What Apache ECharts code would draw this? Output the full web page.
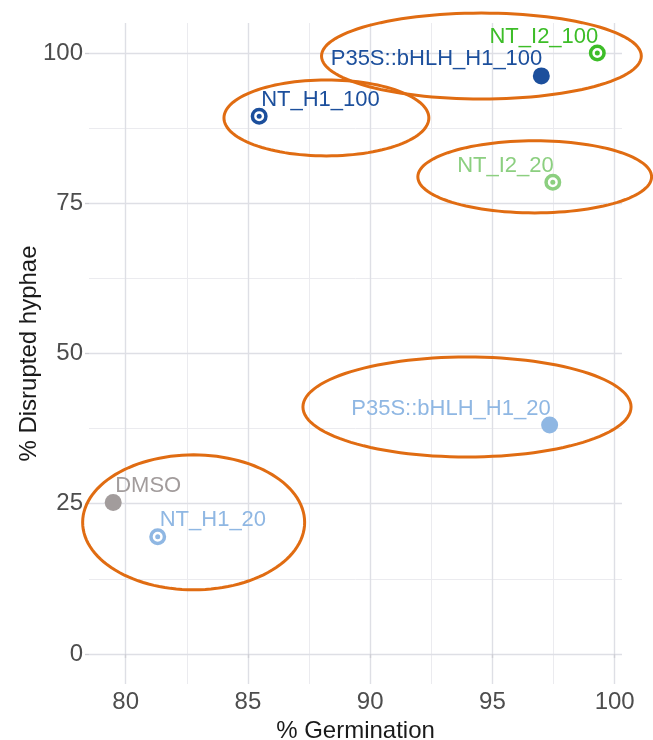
<!DOCTYPE html>
<html>
<head>
<meta charset="utf-8">
<script src="https://cdn.jsdelivr.net/npm/echarts@6/dist/echarts.min.js"></script>
<style>
html,body{margin:0;padding:0;background:#fff;}
#chart{width:653px;height:740px;}
</style>
</head>
<body>
<div id="chart"></div>
<script>
// ---- data ----
const categories = ['DMSO', 'NT_H1_20', 'NT_H1_100', 'P35S::bHLH_H1_100', 'NT_I2_100', 'NT_I2_20', 'P35S::bHLH_H1_20'];
const germination = [79.49, 81.31, 85.46, 97.0, 99.29, 97.47, 97.34];
const disrupted = [25.2, 19.5, 89.5, 96.2, 100, 78.5, 38.1];
const markerType = ['filled', 'ring', 'ring', 'filled', 'ring', 'ring', 'filled'];
const pointColors = ['#a29c9c', '#8fb7e3', '#1c4f9c', '#1c4f9c', '#3dbd28', '#8ccf80', '#8fb7e3'];
const labelSide = ['left', 'left', 'left', 'right', 'right', 'right', 'right'];

// annotation ellipses (data units)
const ellipseCx = [94.55, 88.21, 96.73, 93.96, 82.78];
const ellipseCy = [99.5, 89.2, 79.4, 41.1, 21.9];
const ellipseRx = [6.54, 4.19, 4.78, 6.71, 4.54];
const ellipseRy = [7.15, 6.32, 6.0, 8.32, 11.23];

const xTicks = [80, 85, 90, 95, 100];
const xMinor = [82.5, 87.5, 92.5, 97.5];
const yTicks = [0, 25, 50, 75, 100];
const yMinor = [12.5, 37.5, 62.5, 87.5];

const xRange = [78.5, 100.3];
const yRange = [-5, 105];

// ---- build ----
const FONT = 'Liberation Sans, Arial, sans-serif';

function pointItem(i) {
  return {
    name: categories[i],
    value: [germination[i], disrupted[i]],
    itemStyle: markerType[i] === 'ring'
      ? { color: '#fff', borderColor: pointColors[i], borderWidth: 3.5, opacity: 1 }
      : { color: pointColors[i], opacity: 1 },
    label: {
      show: true,
      formatter: categories[i],
      position: 'top',
      distance: 4,
      align: labelSide[i],
      offset: labelSide[i] === 'left' ? [2, 7] : [1, 7],
      color: pointColors[i],
      fontSize: 22,
      fontFamily: FONT
    }
  };
}

const filledData = [], ringData = [], dotData = [];
categories.forEach((c, i) => {
  if (markerType[i] === 'ring') {
    ringData.push(pointItem(i));
    dotData.push({ value: [germination[i], disrupted[i]], itemStyle: { color: pointColors[i], opacity: 1 } });
  } else {
    filledData.push(pointItem(i));
  }
});

const ellipseData = ellipseCx.map((cx, i) => [cx, ellipseCy[i], ellipseRx[i], ellipseRy[i]]);

const minorStyle = { color: '#ebebef', width: 1, type: 'solid' };
const majorStyle = { color: '#dedfe5', width: 1.4, type: 'solid' };
const gridLines = [];
xMinor.forEach(v => gridLines.push({ xAxis: v, lineStyle: minorStyle }));
yMinor.forEach(v => gridLines.push({ yAxis: v, lineStyle: minorStyle }));
xTicks.forEach(v => gridLines.push({ xAxis: v, lineStyle: majorStyle }));
yTicks.forEach(v => gridLines.push({ yAxis: v, lineStyle: majorStyle }));

const chart = echarts.init(document.getElementById('chart'), null, { renderer: 'canvas' });
chart.setOption({
  animation: false,
  backgroundColor: '#fff',
  grid: { left: 89, right: 31, top: 23, bottom: 56, containLabel: false, outerBoundsMode: 'none' },
  xAxis: {
    type: 'value',
    min: xRange[0], max: xRange[1],
    name: '% Germination',
    nameLocation: 'middle',
    nameGap: 35,
    nameMoveOverlap: false,
    nameTextStyle: { fontSize: 24, color: '#1a1a1a', fontFamily: FONT },
    axisLine: { show: false },
    axisTick: { show: true, customValues: xTicks, length: 4, lineStyle: { color: '#cfcfd5', width: 1.4 } },
    axisLabel: { customValues: xTicks, fontSize: 24, color: '#4d4d4d', margin: 6, fontFamily: FONT },
    splitLine: { show: false }
  },
  yAxis: {
    type: 'value',
    min: yRange[0], max: yRange[1],
    name: '% Disrupted hyphae',
    nameLocation: 'middle',
    nameGap: 48,
    nameMoveOverlap: false,
    nameTextStyle: { fontSize: 24, color: '#1a1a1a', fontFamily: FONT },
    axisLine: { show: false },
    axisTick: { show: true, customValues: yTicks, length: 4, lineStyle: { color: '#cfcfd5', width: 1.4 } },
    axisLabel: { customValues: yTicks, fontSize: 24, color: '#4d4d4d', margin: 6, fontFamily: FONT },
    splitLine: { show: false }
  },
  series: [
    {
      type: 'scatter', data: [], z: 0, silent: true,
      markLine: { silent: true, z: 0, symbol: 'none', label: { show: false }, data: gridLines, animation: false,
        emphasis: { disabled: true } }
    },
    {
      type: 'custom', z: 1, silent: true, clip: false,
      data: ellipseData,
      renderItem: function (params, api) {
        const cx = api.value(0), cy = api.value(1), rx = api.value(2), ry = api.value(3);
        const pts = [];
        for (let k = 0; k < 120; k++) {
          const a = (k / 120) * Math.PI * 2;
          pts.push(api.coord([cx + rx * Math.cos(a), cy + ry * Math.sin(a)]));
        }
        return {
          type: 'polygon',
          shape: { points: pts },
          style: { fill: 'none', stroke: '#e06c12', lineWidth: 3 }
        };
      }
    },
    { type: 'scatter', z: 3, symbol: 'circle', symbolSize: 17, data: filledData },
    { type: 'scatter', z: 3, symbol: 'circle', symbolSize: 13.5, data: ringData },
    { type: 'scatter', z: 4, symbol: 'circle', symbolSize: 5, data: dotData, silent: true }
  ]
});
</script>
</body>
</html>
